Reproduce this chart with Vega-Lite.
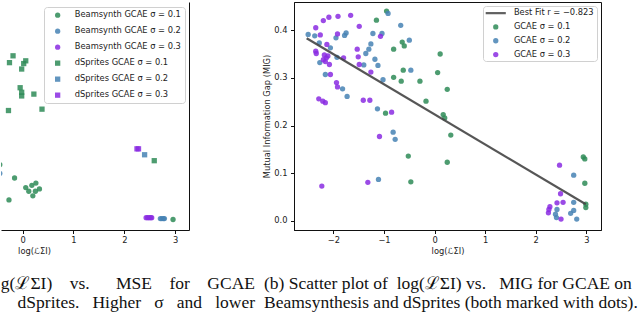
{
  "$schema": "https://vega.github.io/schema/vega-lite/v6.json",
  "background": "white",
  "padding": {"left": 0, "top": 1, "right": 0, "bottom": 0},
  "bounds": "flush",
  "spacing": 105,
  "resolve": {"scale": {"color": "independent", "shape": "independent", "x": "independent", "y": "independent"}, "legend": {"color": "independent", "shape": "independent"}},
  "config": {
    "font": "DejaVu Sans",
    "view": {"stroke": "#111", "strokeWidth": 1},
    "axis": {"grid": false, "domainColor": "#111", "tickColor": "#111", "tickSize": 3.5, "labelFont": "DejaVu Sans", "labelFontSize": 8.3, "labelColor": "#222", "titleFont": "DejaVu Sans", "titleFontSize": 8.3, "titleFontWeight": "normal", "titleColor": "#222", "labelPadding": 2},
    "legend": {"labelFont": "DejaVu Sans", "labelFontSize": 8.3, "labelColor": "#222", "fillColor": "rgba(255,255,255,0.85)", "strokeColor": "#d0d0d0", "cornerRadius": 3, "symbolSize": 28, "symbolStrokeWidth": 0, "labelLimit": 300}
  },
  "datasets": {
    "mse": [
      {"x": -0.45, "y": 0.0143, "s": "Beamsynth GCAE σ = 0.1"},
      {"x": -0.16, "y": 0.0114, "s": "Beamsynth GCAE σ = 0.1"},
      {"x": -0.27, "y": 0.0066, "s": "Beamsynth GCAE σ = 0.1"},
      {"x": 0.06, "y": 0.0093, "s": "Beamsynth GCAE σ = 0.1"},
      {"x": 0.12, "y": 0.0085, "s": "Beamsynth GCAE σ = 0.1"},
      {"x": 0.18, "y": 0.0098, "s": "Beamsynth GCAE σ = 0.1"},
      {"x": 0.26, "y": 0.0103, "s": "Beamsynth GCAE σ = 0.1"},
      {"x": 0.33, "y": 0.009, "s": "Beamsynth GCAE σ = 0.1"},
      {"x": 0.25, "y": 0.0085, "s": "Beamsynth GCAE σ = 0.1"},
      {"x": 0.2, "y": 0.0075, "s": "Beamsynth GCAE σ = 0.1"},
      {"x": 2.96, "y": 0.0023, "s": "Beamsynth GCAE σ = 0.1"},
      {"x": -0.45, "y": 0.0124, "s": "Beamsynth GCAE σ = 0.2"},
      {"x": 2.71, "y": 0.0025, "s": "Beamsynth GCAE σ = 0.2"},
      {"x": 2.74, "y": 0.0025, "s": "Beamsynth GCAE σ = 0.2"},
      {"x": 2.77, "y": 0.0025, "s": "Beamsynth GCAE σ = 0.2"},
      {"x": 2.79, "y": 0.0025, "s": "Beamsynth GCAE σ = 0.2"},
      {"x": 2.43, "y": 0.0027, "s": "Beamsynth GCAE σ = 0.3"},
      {"x": 2.46, "y": 0.0027, "s": "Beamsynth GCAE σ = 0.3"},
      {"x": 2.49, "y": 0.0027, "s": "Beamsynth GCAE σ = 0.3"},
      {"x": 2.52, "y": 0.0027, "s": "Beamsynth GCAE σ = 0.3"},
      {"x": 2.54, "y": 0.0027, "s": "Beamsynth GCAE σ = 0.3"},
      {"x": -0.19, "y": 0.0382, "s": "dSprites GCAE σ = 0.1"},
      {"x": -0.26, "y": 0.0367, "s": "dSprites GCAE σ = 0.1"},
      {"x": 0.02, "y": 0.0365, "s": "dSprites GCAE σ = 0.1"},
      {"x": 0.06, "y": 0.0371, "s": "dSprites GCAE σ = 0.1"},
      {"x": -0.02, "y": 0.0353, "s": "dSprites GCAE σ = 0.1"},
      {"x": -0.05, "y": 0.0312, "s": "dSprites GCAE σ = 0.1"},
      {"x": -0.02, "y": 0.0302, "s": "dSprites GCAE σ = 0.1"},
      {"x": -0.02, "y": 0.0294, "s": "dSprites GCAE σ = 0.1"},
      {"x": 0.22, "y": 0.0298, "s": "dSprites GCAE σ = 0.1"},
      {"x": -0.28, "y": 0.0262, "s": "dSprites GCAE σ = 0.1"},
      {"x": 0.38, "y": 0.0265, "s": "dSprites GCAE σ = 0.1"},
      {"x": 2.59, "y": 0.0152, "s": "dSprites GCAE σ = 0.1"},
      {"x": 2.4, "y": 0.0165, "s": "dSprites GCAE σ = 0.2"},
      {"x": 2.25, "y": 0.0178, "s": "dSprites GCAE σ = 0.3"},
      {"x": 2.28, "y": 0.0178, "s": "dSprites GCAE σ = 0.3"}
    ],
    "mig": [
      {"x": -0.95, "y": 0.44, "s": "GCAE σ = 0.1"},
      {"x": -1.15, "y": 0.421, "s": "GCAE σ = 0.1"},
      {"x": -0.64, "y": 0.375, "s": "GCAE σ = 0.1"},
      {"x": -0.6, "y": 0.367, "s": "GCAE σ = 0.1"},
      {"x": -0.81, "y": 0.36, "s": "GCAE σ = 0.1"},
      {"x": 0.11, "y": 0.35, "s": "GCAE σ = 0.1"},
      {"x": -0.62, "y": 0.316, "s": "GCAE σ = 0.1"},
      {"x": 0.06, "y": 0.311, "s": "GCAE σ = 0.1"},
      {"x": -0.81, "y": 0.301, "s": "GCAE σ = 0.1"},
      {"x": -0.66, "y": 0.293, "s": "GCAE σ = 0.1"},
      {"x": -0.29, "y": 0.293, "s": "GCAE σ = 0.1"},
      {"x": 0.25, "y": 0.276, "s": "GCAE σ = 0.1"},
      {"x": -0.17, "y": 0.251, "s": "GCAE σ = 0.1"},
      {"x": 0.17, "y": 0.223, "s": "GCAE σ = 0.1"},
      {"x": 0.2, "y": 0.216, "s": "GCAE σ = 0.1"},
      {"x": -0.97, "y": 0.226, "s": "GCAE σ = 0.1"},
      {"x": 0.32, "y": 0.18, "s": "GCAE σ = 0.1"},
      {"x": -0.52, "y": 0.136, "s": "GCAE σ = 0.1"},
      {"x": 0.25, "y": 0.123, "s": "GCAE σ = 0.1"},
      {"x": -0.47, "y": 0.082, "s": "GCAE σ = 0.1"},
      {"x": 2.94, "y": 0.134, "s": "GCAE σ = 0.1"},
      {"x": 2.97, "y": 0.13, "s": "GCAE σ = 0.1"},
      {"x": 2.97, "y": 0.079, "s": "GCAE σ = 0.1"},
      {"x": 2.99, "y": 0.035, "s": "GCAE σ = 0.1"},
      {"x": 2.99, "y": 0.028, "s": "GCAE σ = 0.1"},
      {"x": -0.92, "y": 0.435, "s": "GCAE σ = 0.2"},
      {"x": -0.67, "y": 0.41, "s": "GCAE σ = 0.2"},
      {"x": -1.75, "y": 0.394, "s": "GCAE σ = 0.2"},
      {"x": -1.78, "y": 0.389, "s": "GCAE σ = 0.2"},
      {"x": -1.22, "y": 0.393, "s": "GCAE σ = 0.2"},
      {"x": -1.04, "y": 0.393, "s": "GCAE σ = 0.2"},
      {"x": -1.95, "y": 0.384, "s": "GCAE σ = 0.2"},
      {"x": -0.5, "y": 0.379, "s": "GCAE σ = 0.2"},
      {"x": -1.26, "y": 0.371, "s": "GCAE σ = 0.2"},
      {"x": -1.3, "y": 0.36, "s": "GCAE σ = 0.2"},
      {"x": -1.36, "y": 0.351, "s": "GCAE σ = 0.2"},
      {"x": -1.18, "y": 0.339, "s": "GCAE σ = 0.2"},
      {"x": -1.12, "y": 0.326, "s": "GCAE σ = 0.2"},
      {"x": -1.4, "y": 0.327, "s": "GCAE σ = 0.2"},
      {"x": -0.47, "y": 0.316, "s": "GCAE σ = 0.2"},
      {"x": -1.02, "y": 0.296, "s": "GCAE σ = 0.2"},
      {"x": -1.82, "y": 0.277, "s": "GCAE σ = 0.2"},
      {"x": -1.73, "y": 0.261, "s": "GCAE σ = 0.2"},
      {"x": -1.13, "y": 0.235, "s": "GCAE σ = 0.2"},
      {"x": -0.82, "y": 0.186, "s": "GCAE σ = 0.2"},
      {"x": -0.78, "y": 0.171, "s": "GCAE σ = 0.2"},
      {"x": -1.11, "y": 0.087, "s": "GCAE σ = 0.2"},
      {"x": -2.5, "y": 0.391, "s": "GCAE σ = 0.2"},
      {"x": -2.37, "y": 0.388, "s": "GCAE σ = 0.2"},
      {"x": -2.28, "y": 0.373, "s": "GCAE σ = 0.2"},
      {"x": -2.06, "y": 0.363, "s": "GCAE σ = 0.2"},
      {"x": -2.27, "y": 0.332, "s": "GCAE σ = 0.2"},
      {"x": -2.16, "y": 0.307, "s": "GCAE σ = 0.2"},
      {"x": -1.93, "y": 0.343, "s": "GCAE σ = 0.2"},
      {"x": 2.75, "y": 0.096, "s": "GCAE σ = 0.2"},
      {"x": 2.75, "y": 0.039, "s": "GCAE σ = 0.2"},
      {"x": 2.75, "y": 0.022, "s": "GCAE σ = 0.2"},
      {"x": 2.69, "y": 0.016, "s": "GCAE σ = 0.2"},
      {"x": 2.81, "y": 0.004, "s": "GCAE σ = 0.2"},
      {"x": 2.42, "y": 0.024, "s": "GCAE σ = 0.2"},
      {"x": 2.39, "y": 0.014, "s": "GCAE σ = 0.2"},
      {"x": 2.41, "y": 0.007, "s": "GCAE σ = 0.2"},
      {"x": -1.66, "y": 0.431, "s": "GCAE σ = 0.3"},
      {"x": -1.91, "y": 0.429, "s": "GCAE σ = 0.3"},
      {"x": -2.09, "y": 0.427, "s": "GCAE σ = 0.3"},
      {"x": -2.2, "y": 0.42, "s": "GCAE σ = 0.3"},
      {"x": -2.35, "y": 0.405, "s": "GCAE σ = 0.3"},
      {"x": -1.49, "y": 0.408, "s": "GCAE σ = 0.3"},
      {"x": -2.26, "y": 0.39, "s": "GCAE σ = 0.3"},
      {"x": -1.92, "y": 0.392, "s": "GCAE σ = 0.3"},
      {"x": -2.13, "y": 0.37, "s": "GCAE σ = 0.3"},
      {"x": -2.35, "y": 0.356, "s": "GCAE σ = 0.3"},
      {"x": -2.34, "y": 0.351, "s": "GCAE σ = 0.3"},
      {"x": -2.18, "y": 0.348, "s": "GCAE σ = 0.3"},
      {"x": -2.14, "y": 0.342, "s": "GCAE σ = 0.3"},
      {"x": -2.11, "y": 0.346, "s": "GCAE σ = 0.3"},
      {"x": -2.2, "y": 0.338, "s": "GCAE σ = 0.3"},
      {"x": -2.16, "y": 0.334, "s": "GCAE σ = 0.3"},
      {"x": -2.08, "y": 0.328, "s": "GCAE σ = 0.3"},
      {"x": -1.8, "y": 0.342, "s": "GCAE σ = 0.3"},
      {"x": -1.53, "y": 0.36, "s": "GCAE σ = 0.3"},
      {"x": -1.51, "y": 0.344, "s": "GCAE σ = 0.3"},
      {"x": -1.49, "y": 0.328, "s": "GCAE σ = 0.3"},
      {"x": -1.26, "y": 0.312, "s": "GCAE σ = 0.3"},
      {"x": -2.06, "y": 0.307, "s": "GCAE σ = 0.3"},
      {"x": -1.94, "y": 0.29, "s": "GCAE σ = 0.3"},
      {"x": -1.92, "y": 0.281, "s": "GCAE σ = 0.3"},
      {"x": -2.29, "y": 0.256, "s": "GCAE σ = 0.3"},
      {"x": -2.21, "y": 0.251, "s": "GCAE σ = 0.3"},
      {"x": -2.16, "y": 0.248, "s": "GCAE σ = 0.3"},
      {"x": -1.41, "y": 0.253, "s": "GCAE σ = 0.3"},
      {"x": -1.28, "y": 0.253, "s": "GCAE σ = 0.3"},
      {"x": -1.07, "y": 0.387, "s": "GCAE σ = 0.3"},
      {"x": -0.85, "y": 0.228, "s": "GCAE σ = 0.3"},
      {"x": -1.09, "y": 0.177, "s": "GCAE σ = 0.3"},
      {"x": -1.32, "y": 0.081, "s": "GCAE σ = 0.3"},
      {"x": -2.23, "y": 0.073, "s": "GCAE σ = 0.3"},
      {"x": 2.47, "y": 0.117, "s": "GCAE σ = 0.3"},
      {"x": 2.49, "y": 0.057, "s": "GCAE σ = 0.3"},
      {"x": 2.42, "y": 0.038, "s": "GCAE σ = 0.3"},
      {"x": 2.54, "y": 0.039, "s": "GCAE σ = 0.3"},
      {"x": 2.28, "y": 0.03, "s": "GCAE σ = 0.3"},
      {"x": 2.26, "y": 0.024, "s": "GCAE σ = 0.3"},
      {"x": 2.25, "y": 0.017, "s": "GCAE σ = 0.3"},
      {"x": 2.5, "y": 0.004, "s": "GCAE σ = 0.3"}
    ],
    "fit": [
      {"x": -2.53, "y": 0.383},
      {"x": 2.99, "y": 0.035}
    ]
  },
  "hconcat": [
    {
      "width": 188,
      "height": 228,
      "view": {"stroke": null},
      "data": {"name": "mse"},
      "mark": {"type": "point", "filled": true, "opacity": 0.85, "size": 28, "strokeWidth": 0, "clip": true},
      "encoding": {
        "x": {"field": "x", "type": "quantitative", "scale": {"domain": [-0.427, 3.274], "nice": false, "zero": false}, "axis": {"values": [0, 1, 2, 3], "format": "d", "title": "log(ℒΣI)", "titleX": 33, "titlePadding": 3}},
        "y": {"field": "y", "type": "quantitative", "scale": {"domain": [0, 0.05], "nice": false}, "axis": {"orient": "right", "labels": false, "ticks": false, "title": null}},
        "color": {"field": "s", "type": "nominal", "scale": {"domain": ["Beamsynth GCAE σ = 0.1", "Beamsynth GCAE σ = 0.2", "Beamsynth GCAE σ = 0.3", "dSprites GCAE σ = 0.1", "dSprites GCAE σ = 0.2", "dSprites GCAE σ = 0.3"], "range": ["#2e8b57", "#4682b4", "#8a2be2", "#2e8b57", "#4682b4", "#8a2be2"]},
          "legend": {"title": null, "orient": "top-right", "offset": 4.5, "padding": 4, "symbolOffset": 5.5, "labelOffset": 13, "rowPadding": 7}},
        "shape": {"field": "s", "type": "nominal", "scale": {"domain": ["Beamsynth GCAE σ = 0.1", "Beamsynth GCAE σ = 0.2", "Beamsynth GCAE σ = 0.3", "dSprites GCAE σ = 0.1", "dSprites GCAE σ = 0.2", "dSprites GCAE σ = 0.3"], "range": ["circle", "circle", "circle", "square", "square", "square"]},
          "legend": {"title": null, "orient": "top-right", "offset": 4.5, "padding": 4, "symbolOffset": 5.5, "labelOffset": 13, "rowPadding": 7}}
      },
      "title": {"text": ["g(ℒΣI)\u00a0\u00a0\u00a0\u00a0vs.\u00a0\u00a0\u00a0\u00a0\u00a0\u00a0MSE\u00a0\u00a0\u00a0\u00a0for\u00a0\u00a0\u00a0\u00a0GCAE", "dSprites.\u00a0\u00a0\u00a0Higher\u00a0\u00a0\u00a0σ\u00a0\u00a0\u00a0and\u00a0\u00a0\u00a0lower"], "orient": "bottom", "anchor": "end", "align": "right", "frame": "group", "dx": 66, "offset": 20, "font": "Liberation Serif", "fontSize": 17.5, "fontWeight": "normal", "lineHeight": 18.5, "color": "#111"}
    },
    {
      "width": 307,
      "height": 228,
      "layer": [
        {
          "data": {"name": "mig"},
          "mark": {"type": "point", "filled": true, "opacity": 0.85, "size": 28, "strokeWidth": 0, "clip": true},
          "encoding": {
            "x": {"field": "x", "type": "quantitative", "scale": {"domain": [-2.78, 3.29], "nice": false, "zero": false}, "axis": {"values": [-2, -1, 0, 1, 2, 3], "format": "d", "title": "log(ℒΣI)", "titlePadding": 3}},
            "y": {"field": "y", "type": "quantitative", "scale": {"domain": [-0.019, 0.459], "nice": false, "zero": false}, "axis": {"values": [0, 0.1, 0.2, 0.3, 0.4], "format": ".1f", "title": "Mutual Information Gap (MIG)", "labelPadding": 3.5, "titlePadding": 2.5}},
            "color": {"field": "s", "type": "nominal", "scale": {"domain": ["Best Fit r = −0.823", "GCAE σ = 0.1", "GCAE σ = 0.2", "GCAE σ = 0.3"], "range": ["#444444", "#2e8b57", "#4682b4", "#8a2be2"]},
              "legend": {"title": null, "orient": "top-right", "offset": 4, "padding": 3, "symbolOffset": 5.6, "labelOffset": 14, "rowPadding": 4.8}},
            "shape": {"field": "s", "type": "nominal", "scale": {"domain": ["Best Fit r = −0.823", "GCAE σ = 0.1", "GCAE σ = 0.2", "GCAE σ = 0.3"], "range": ["M-3.8,-0.42H3.8V0.42H-3.8Z", "circle", "circle", "circle"]},
              "legend": {"title": null, "orient": "top-right", "offset": 4, "padding": 3, "symbolOffset": 5.6, "labelOffset": 14, "rowPadding": 4.8}}
          }
        },
        {
          "data": {"name": "fit"},
          "mark": {"type": "line", "color": "#444444", "strokeWidth": 2.2, "opacity": 0.9},
          "encoding": {
            "x": {"field": "x", "type": "quantitative"},
            "y": {"field": "y", "type": "quantitative"}
          }
        }
      ],
      "title": {"text": ["(b) Scatter plot of\u00a0\u00a0log(ℒΣI) vs.\u00a0\u00a0\u00a0MIG for GCAE on", "Beamsynthesis and dSprites (both marked with dots)."], "orient": "bottom", "anchor": "start", "align": "left", "frame": "group", "dx": -30, "offset": 20, "font": "Liberation Serif", "fontSize": 17.5, "fontWeight": "normal", "lineHeight": 18.5, "color": "#111"}
    }
  ]
}
